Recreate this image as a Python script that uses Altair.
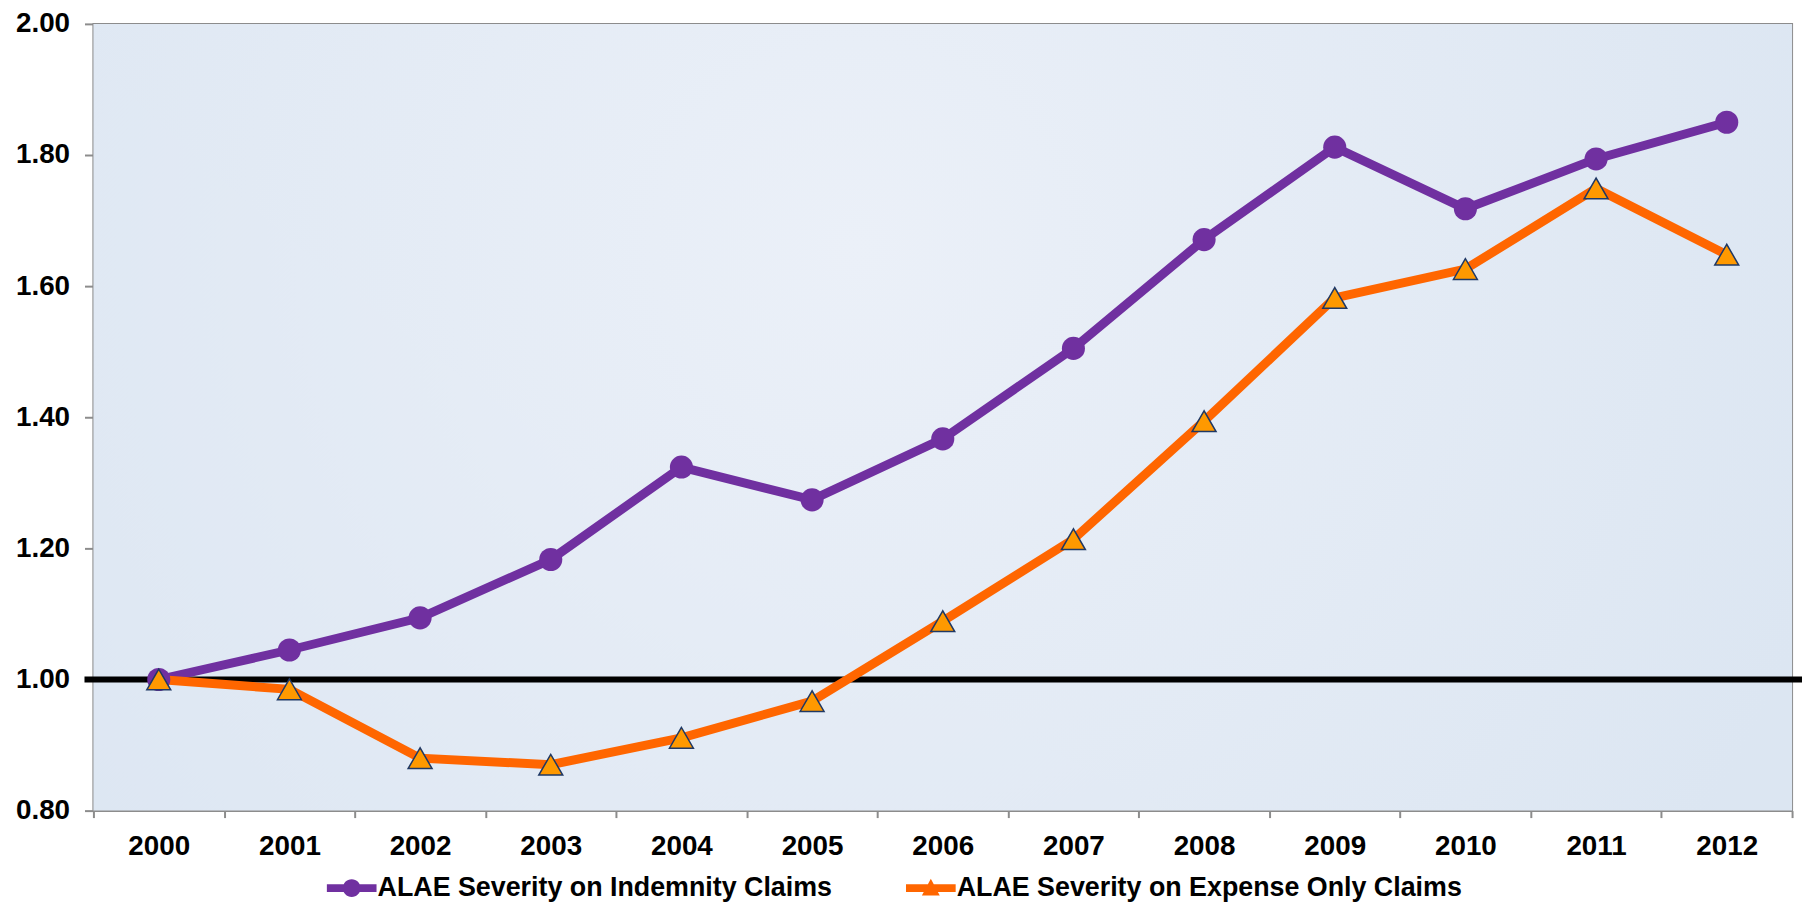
import altair as alt
import pandas as pd

years = [str(y) for y in range(2000, 2013)]
indemnity = [1.000, 1.045, 1.094, 1.183, 1.324, 1.274, 1.367, 1.505, 1.671, 1.812, 1.718, 1.794, 1.850]
expense_only = [1.000, 0.985, 0.880, 0.870, 0.911, 0.967, 1.089, 1.214, 1.394, 1.582, 1.626, 1.749, 1.648]
series_names = ["ALAE Severity on Indemnity Claims", "ALAE Severity on Expense Only Claims"]
y_ticks = [0.8, 1.0, 1.2, 1.4, 1.6, 1.8, 2.0]

PURPLE = "#7030A0"
ORANGE_LINE = "#FF6600"
ORANGE_FILL = "#FF9900"
NAVY = "#1F3864"
GRID = "#8C8C8C"
FONT = "Liberation Sans"

W, H = 1710, 792

df = pd.DataFrame({
    "year": years * 2,
    "series": [series_names[0]] * len(years) + [series_names[1]] * len(years),
    "value": indemnity + expense_only,
})

x_enc = alt.X(
    "year:O",
    sort=years,
    scale=alt.Scale(type="band", paddingInner=0, paddingOuter=0),
    axis=alt.Axis(
        title=None, labelAngle=0, tickBand="extent", tickSize=7, tickColor=GRID,
        tickWidth=2, domainColor=GRID, domainWidth=2, grid=False, labelPadding=15,
        labelFont=FONT, labelFontSize=28, labelFontWeight="bold", labelColor="black",
    ),
)
y_enc = alt.Y(
    "value:Q",
    scale=alt.Scale(domain=[0.8, 2.0], nice=False, zero=False),
    axis=alt.Axis(
        title=None, values=y_ticks, format=".2f", tickSize=9, tickColor=GRID, tickWidth=2,
        domainColor=GRID, domainWidth=2, grid=True, gridColor=GRID, gridWidth=2,
        labelPadding=15, labelFont=FONT, labelFontSize=28, labelFontWeight="bold",
        labelColor="black",
    ),
)

bg = alt.Chart(alt.Data(values=[{}])).mark_rect(
    color=alt.RadialGradient(
        gradient="radial",
        stops=[alt.GradientStop(color="#EBF0F8", offset=0),
               alt.GradientStop(color="#DCE6F2", offset=1)],
        x1=0.45, y1=0.4, r1=0, x2=0.45, y2=0.4, r2=0.6,
    )
).encode(x=alt.value(0), x2=alt.value(W), y=alt.value(0), y2=alt.value(H))

base = alt.Chart(df)

rule = alt.Chart(alt.Data(values=[{}])).mark_rule(color="black", strokeWidth=6).encode(
    y=alt.datum(1.0), x=alt.value(-9), x2=alt.value(W + 12)
)

line_a = base.transform_filter(alt.datum.series == series_names[0]).mark_line(
    color=PURPLE, strokeWidth=9
).encode(x=x_enc, y=y_enc)
line_b = base.transform_filter(alt.datum.series == series_names[1]).mark_line(
    color=ORANGE_LINE, strokeWidth=9
).encode(x=x_enc, y=y_enc)
pts_a = base.transform_filter(alt.datum.series == series_names[0]).mark_point(
    shape="circle", filled=True, fill=PURPLE, size=540, opacity=1, strokeWidth=0
).encode(x=x_enc, y=y_enc)
pts_b = base.transform_filter(alt.datum.series == series_names[1]).mark_point(
    shape="triangle-up", filled=True, fill=ORANGE_FILL, stroke=NAVY, strokeWidth=1.5,
    size=580, opacity=1
).encode(x=x_enc, y=y_enc)

circle_sym = ("M-1,-0.16H1V0.16H-1Z "
              "M-0.36,0A0.36,0.36 0 1,1 0.36,0A0.36,0.36 0 1,1 -0.36,0Z")
tri_sym = "M-1,-0.16H1V0.16H-1Z M0,-0.38L0.36,0.3L-0.36,0.3Z"

legend_layer = base.transform_filter("false").mark_point(filled=True, opacity=1).encode(
    x=x_enc, y=y_enc,
    color=alt.Color("series:N", scale=alt.Scale(domain=series_names, range=[PURPLE, ORANGE_LINE]),
                    legend=alt.Legend(title=None)),
    shape=alt.Shape("series:N", scale=alt.Scale(domain=series_names, range=[circle_sym, tri_sym]),
                    legend=alt.Legend(
                        title=None, orient="none", direction="horizontal",
                        legendX=235, legendY=845, symbolSize=2500, labelOffset=1,
                        columnPadding=74, labelFont=FONT, labelFontSize=27,
                        labelFontWeight="bold", labelColor="black", labelLimit=800,
                        symbolStrokeWidth=0,
                    )),
)

chart = alt.layer(bg, rule, line_a, line_b, pts_a, pts_b, legend_layer).properties(
    width=W, height=H,
    autosize=alt.AutoSizeParams(type="none"),
    padding={"left": 86, "top": 13, "right": 10, "bottom": 90},
).configure_view(stroke=GRID, strokeWidth=2)

chart.save("out.html", embed_options={"renderer": "svg", "actions": False})
